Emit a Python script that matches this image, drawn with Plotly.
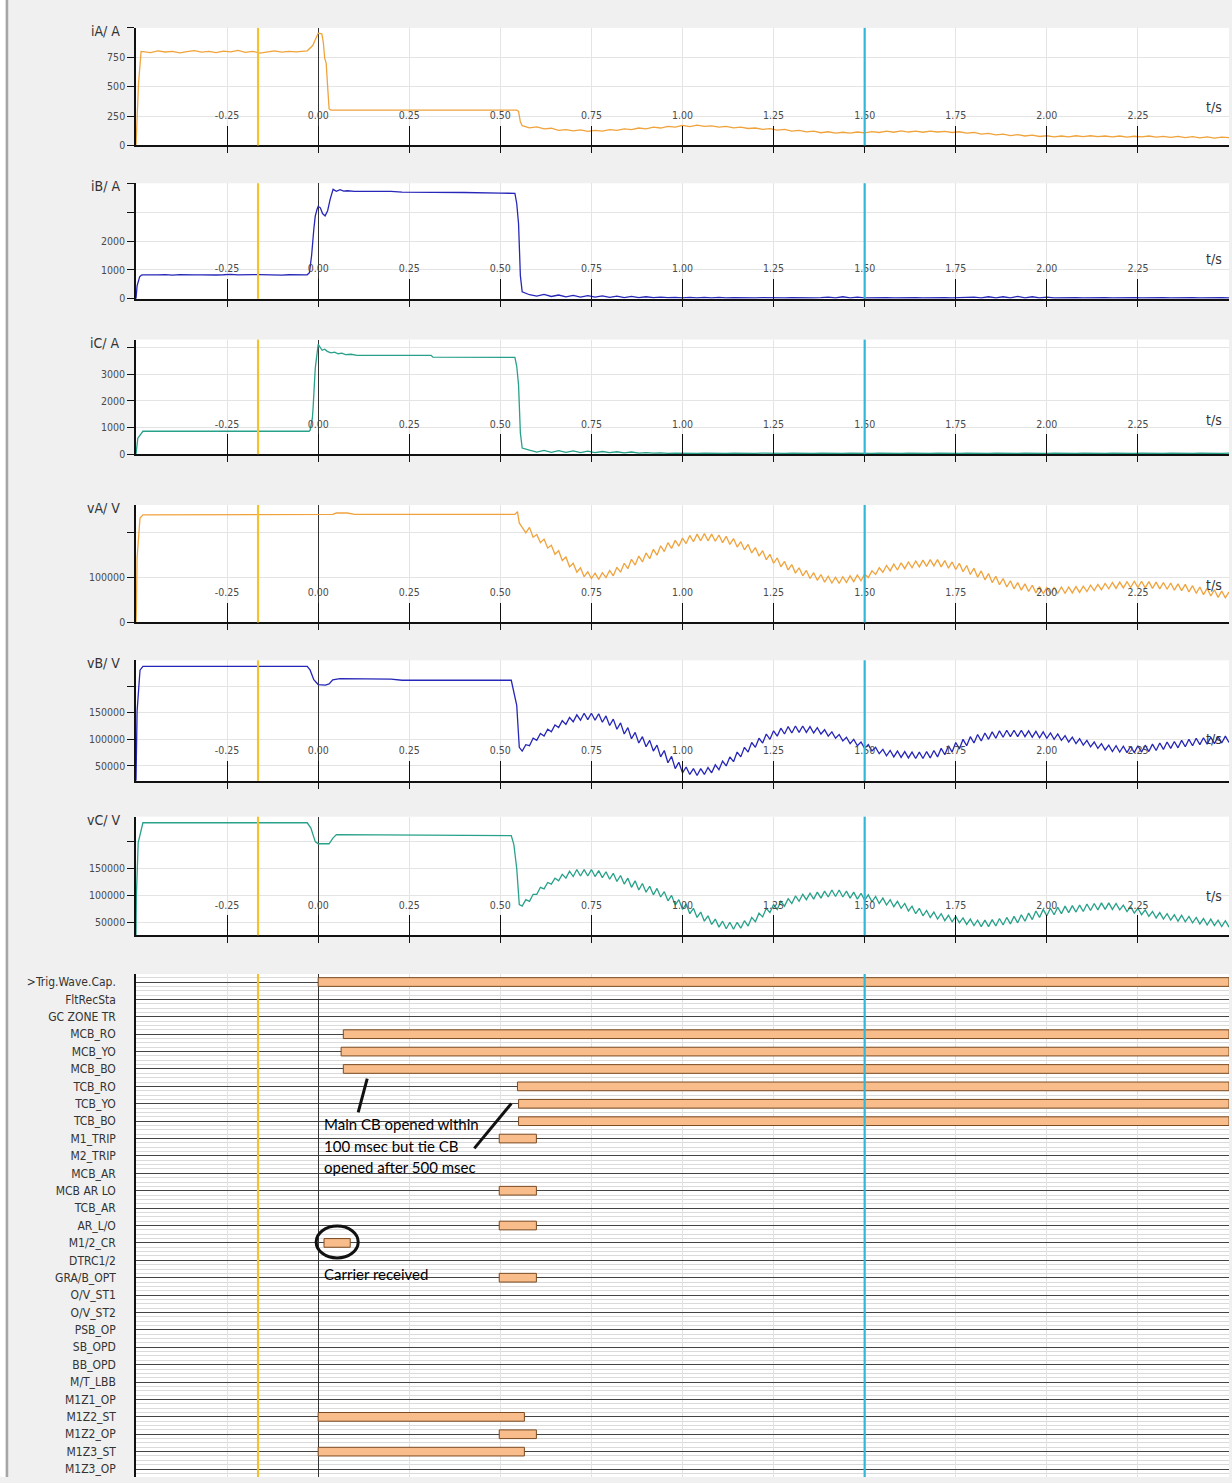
import plotly.graph_objects as go

W, H = 1232, 1483
PX_L, PX_R = 136, 1229
PW = PX_R - PX_L


def grid(start, step, n):
    return [round(start + i * step, 4) for i in range(n)]


# ---------------- shared x data ----------------
X_RANGE = [-0.5, 2.5]
X_TICKS = [-0.25, 0.0, 0.25, 0.5, 0.75, 1.0, 1.25, 1.5, 1.75, 2.0, 2.25]
X_TICK_TEXT = ["-0.25", "0.00", "0.25", "0.50", "0.75", "1.00", "1.25", "1.50", "1.75", "2.00", "2.25"]
CURSOR_1 = -0.165
CURSOR_2 = 1.5

# ---------------- iA (A) ----------------
iA_start_t = [-0.5, -0.498, -0.493, -0.486]
iA_start_v = [0, 150, 530, 800]
iA_pre_v = [798, 790, 805, 795, 800, 788, 798, 806, 794, 800, 790, 802, 796, 808, 792, 800,
            786, 798, 804, 794, 800, 796, 806]          # -0.48 .. -0.04 every 0.02 s
iA_fault_t = [-0.03, -0.015, -0.005, 0.0, 0.01, 0.014, 0.018, 0.022, 0.026, 0.03, 0.035,
              0.2, 0.4, 0.545, 0.55, 0.555]
iA_fault_v = [805, 850, 930, 955, 950, 880, 740, 700, 500, 310, 300, 298, 302, 300, 290, 200]
iA_post_v = [168, 150, 158, 140, 146, 128, 134, 124, 132, 120,
             128, 122, 134, 128, 140, 134, 148, 140, 156, 148,
             162, 156, 170, 160, 172, 162, 166, 156, 162, 150,
             156, 144, 148, 136, 142, 130, 136, 122, 128, 116,
             122, 108, 116, 104, 112, 104, 114, 106, 118, 110,
             122, 112, 124, 114, 122, 112, 122, 114, 120, 110,
             116, 104, 110, 96, 102, 90, 96, 84, 92, 80,
             88, 76, 82, 72, 80, 72, 82, 74, 82, 74,
             80, 72, 80, 70, 78, 72, 80, 70, 76, 68,
             76, 66, 74, 64, 72, 62, 70, 66]           # 0.56 .. 2.50 every 0.02 s

# ---------------- iB (A) ----------------
iB_start_t = [-0.5, -0.497, -0.49, -0.485]
iB_start_v = [0, 450, 760, 820]
iB_pre_v = [830, 840, 826, 834, 820, 836, 842, 830, 826, 838, 824, 832, 846, 830, 822, 834,
            840, 828, 836, 820, 832, 838, 830]
iB_fault_t = [-0.03, -0.024, -0.018, -0.012, -0.008, -0.003, 0.0, 0.006, 0.012, 0.019, 0.026,
              0.033, 0.041, 0.05, 0.06, 0.07, 0.08, 0.1, 0.2, 0.23, 0.3, 0.4, 0.5, 0.54,
              0.545, 0.55, 0.555, 0.56]
iB_fault_v = [830, 900, 1500, 2400, 2860, 3100, 3200, 3150, 2950, 2870, 3050, 3450, 3790, 3720,
              3780, 3730, 3740, 3720, 3720, 3690, 3690, 3680, 3660, 3650, 3300, 2600, 800, 240]
iB_post_v = [140, 90, 150, 80, 130, 70, 120, 60, 110, 60,
             100, 50, 90, 40, 80, 40, 70, 40, 60, 40,
             50, 30, 50, 30, 50, 30, 50, 30, 40, 30,
             40, 30, 40, 30, 40, 30, 40, 30, 40, 30,
             40, 60, 30, 70, 30, 60, 30, 40, 30, 40,
             30, 40, 30, 40, 30, 40, 30, 40, 30, 40,
             30, 60, 30, 70, 30, 70, 30, 80, 30, 70,
             30, 60, 30, 40, 30, 40, 30, 40, 30, 40,
             30, 40, 30, 40, 30, 40, 30, 40, 30, 40,
             30, 40, 30, 40, 30, 40, 30]               # 0.58 .. 2.50 every 0.02 s

# ---------------- iC (A) ----------------
iC_start_t = [-0.5, -0.498, -0.495, -0.481, -0.03]
iC_start_v = [0, 350, 600, 860, 860]
iC_fault_t = [-0.025, -0.022, -0.016, -0.014, -0.008, 0.0, 0.011, 0.018, 0.025, 0.035, 0.045,
              0.055, 0.065, 0.075, 0.09, 0.107, 0.31, 0.315, 0.54, 0.545, 0.55, 0.555, 0.56]
iC_fault_v = [860, 900, 1350, 1720, 3220, 4120, 3900, 3940, 3860, 3800, 3830, 3770, 3790, 3740,
              3750, 3710, 3710, 3640, 3630, 3300, 2600, 800, 230]
iC_post_v = [150, 80, 140, 70, 130, 70, 120, 60, 110, 60,
             100, 60, 90, 50, 80, 40, 60, 40, 50, 30,
             40, 30, 40, 30, 40, 30, 40, 30, 40, 30,
             40, 30, 40, 30, 40, 30, 40, 30, 40, 30,
             40, 30, 40, 30, 40, 30, 40, 30, 40, 30,
             40, 30, 40, 30, 40, 30, 40, 30, 40, 30,
             40, 30, 40, 30, 40, 30, 40, 30, 40, 30,
             40, 30, 40, 30, 40, 30, 40, 30, 40, 30,
             40, 30, 40, 30, 40, 30, 40, 30, 40, 30,
             40, 30, 40, 30, 40, 30, 40]

# ---------------- vA (V) ----------------
vA_key_t = [-0.5, -0.499, -0.497, -0.489, -0.481, 0.0, 0.04, 0.05, 0.08, 0.1, 0.54, 0.547, 0.552]
vA_key_v = [0, 25000, 144000, 233000, 240000, 240000, 241000, 244000, 244000, 241000, 241000,
            247000, 222000]
vA_post_kV = [212, 200, 212, 190, 196, 178, 186, 166, 172, 152,
              160, 138, 146, 124, 132, 112, 122, 102, 113, 98,
              110, 96, 111, 100, 116, 104, 123, 112, 132, 120,
              141, 128, 148, 135, 155, 142, 163, 150, 171, 158,
              178, 165, 183, 170, 188, 176, 194, 180, 197, 182,
              198, 182, 197, 181, 195, 178, 192, 174, 187, 168,
              180, 162, 174, 155, 167, 148, 160, 140, 152, 132,
              144, 124, 136, 117, 129, 110, 122, 104, 116, 98,
              111, 94, 107, 90, 103, 88, 101, 87, 102, 89,
              104, 91, 106, 93, 108, 100, 115, 107, 122, 112,
              127, 115, 130, 117, 133, 120, 135, 122, 137, 124,
              139, 125, 140, 126, 140, 124, 138, 121, 135, 118,
              132, 113, 127, 107, 121, 101, 115, 95, 109, 89,
              103, 84, 98, 79, 93, 75, 89, 72, 86, 69,
              83, 66, 80, 64, 78, 64, 78, 65, 79, 65,
              79, 66, 80, 67, 81, 69, 83, 71, 85, 73,
              87, 75, 89, 76, 90, 77, 91, 78, 92, 78,
              92, 77, 91, 76, 90, 75, 89, 74, 88, 72,
              86, 71, 85, 68, 82, 65, 79, 62, 76, 59,
              73, 56, 70, 55, 68]                     # 0.56 .. 2.50 every 0.01 s

# ---------------- vB (V) ----------------
vB_key_t = [-0.5, -0.499, -0.497, -0.489, -0.481, -0.03, -0.022, -0.012, 0.0, 0.02, 0.03, 0.04,
            0.06, 0.2, 0.23, 0.53, 0.537, 0.545, 0.552]
vB_key_v = [22000, 103000, 153000, 230000, 237000, 237000, 230000, 212000, 203000, 202000,
            204000, 212000, 214000, 213000, 211000, 211000, 190000, 164000, 85000]
vB_post_kV = [78, 90, 88, 102, 98, 111, 106, 119, 114, 127,
              122, 135, 128, 141, 133, 146, 136, 149, 137, 149,
              136, 148, 132, 144, 126, 138, 119, 131, 110, 122,
              101, 113, 93, 105, 86, 98, 78, 89, 67, 79,
              56, 68, 45, 57, 37, 48, 34, 45, 32, 45,
              34, 47, 37, 52, 43, 59, 50, 67, 58, 76,
              67, 85, 76, 94, 85, 102, 93, 110, 100, 116,
              106, 121, 110, 124, 112, 125, 113, 125, 113, 124,
              112, 122, 110, 118, 106, 114, 102, 109, 97, 104,
              92, 100, 88, 95, 83, 90, 78, 85, 73, 81,
              69, 79, 67, 78, 66, 77, 65, 76, 64, 76,
              64, 77, 65, 79, 67, 83, 71, 88, 76, 94,
              82, 100, 88, 105, 93, 109, 97, 112, 100, 114,
              102, 116, 104, 117, 105, 117, 105, 117, 105, 116,
              104, 115, 103, 114, 102, 112, 100, 110, 98, 107,
              95, 104, 92, 101, 89, 98, 86, 95, 83, 92,
              80, 89, 77, 88, 76, 87, 75, 87, 75, 88,
              76, 89, 77, 91, 79, 93, 81, 95, 83, 96,
              84, 98, 86, 100, 88, 102, 90, 103, 91, 104,
              92, 105, 93, 106, 94]

# ---------------- vC (V) ----------------
vC_key_t = [-0.5, -0.499, -0.494, -0.481, -0.03, -0.02, -0.008, 0.0, 0.03, 0.04, 0.05, 0.53,
            0.537, 0.545, 0.552]
vC_key_v = [26000, 98000, 198000, 235000, 235000, 225000, 200000, 196000, 196000, 206000,
            213000, 211000, 195000, 150000, 83000]
vC_post_kV = [80, 92, 89, 102, 102, 115, 112, 124, 121, 132,
              127, 139, 132, 145, 135, 148, 136, 148, 136, 148,
              135, 146, 133, 144, 130, 141, 126, 137, 121, 132,
              115, 127, 110, 122, 106, 117, 101, 113, 97, 107,
              90, 100, 82, 92, 74, 84, 66, 76, 59, 69,
              52, 62, 46, 56, 41, 52, 38, 50, 37, 50,
              39, 53, 43, 59, 51, 67, 60, 76, 68, 83,
              74, 89, 80, 94, 85, 99, 89, 102, 92, 104,
              93, 106, 95, 108, 97, 110, 98, 110, 97, 108,
              95, 106, 93, 104, 91, 101, 88, 98, 85, 95,
              82, 92, 79, 89, 76, 85, 71, 80, 66, 76,
              62, 72, 59, 69, 56, 66, 53, 63, 51, 61,
              49, 58, 46, 56, 44, 54, 42, 54, 42, 55,
              43, 57, 45, 59, 47, 61, 49, 64, 52, 67,
              55, 71, 59, 74, 62, 76, 64, 78, 66, 80,
              68, 81, 69, 82, 70, 84, 72, 85, 73, 86,
              74, 86, 74, 85, 73, 82, 70, 79, 67, 76,
              64, 73, 61, 70, 58, 68, 56, 66, 54, 64,
              52, 63, 51, 61, 49, 59, 47, 57, 45, 56,
              44, 54, 42, 53, 41]

# ---------------- digital channels ----------------
DIG_LABELS = [">Trig.Wave.Cap.", "FltRecSta", "GC ZONE TR", "MCB_RO", "MCB_YO", "MCB_BO",
              "TCB_RO", "TCB_YO", "TCB_BO", "M1_TRIP", "M2_TRIP", "MCB_AR", "MCB AR LO",
              "TCB_AR", "AR_L/O", "M1/2_CR", "DTRC1/2", "GRA/B_OPT", "O/V_ST1", "O/V_ST2",
              "PSB_OP", "SB_OPD", "BB_OPD", "M/T_LBB", "M1Z1_OP", "M1Z2_ST", "M1Z2_OP",
              "M1Z3_ST", "M1Z3_OP"]
BAR_CHANNEL = [">Trig.Wave.Cap.", "MCB_RO", "MCB_YO", "MCB_BO", "TCB_RO", "TCB_YO", "TCB_BO",
               "M1_TRIP", "MCB AR LO", "AR_L/O", "M1/2_CR", "GRA/B_OPT", "M1Z2_ST", "M1Z2_OP",
               "M1Z3_ST"]
BAR_START = [0.0, 0.069, 0.063, 0.069, 0.547, 0.55, 0.55, 0.497, 0.497, 0.497, 0.016, 0.497,
             0.0, 0.497, 0.0]
BAR_END = [2.5, 2.5, 2.5, 2.5, 2.5, 2.5, 2.5, 0.599, 0.599, 0.599, 0.088, 0.599, 0.566, 0.599,
           0.566]

# ---------------- assemble series ----------------
def series(parts):
    t, v = [], []
    for pt, pv in parts:
        t += list(pt)
        v += list(pv)
    return t, v


iA_t, iA_v = series([(iA_start_t, iA_start_v), (grid(-0.48, 0.02, len(iA_pre_v)), iA_pre_v),
                     (iA_fault_t, iA_fault_v), (grid(0.56, 0.02, len(iA_post_v)), iA_post_v)])
iB_t, iB_v = series([(iB_start_t, iB_start_v), (grid(-0.48, 0.02, len(iB_pre_v)), iB_pre_v),
                     (iB_fault_t, iB_fault_v), (grid(0.58, 0.02, len(iB_post_v)), iB_post_v)])
iC_t, iC_v = series([(iC_start_t, iC_start_v), (iC_fault_t, iC_fault_v),
                     (grid(0.58, 0.02, len(iC_post_v)), iC_post_v)])
vA_t, vA_v = series([(vA_key_t, vA_key_v),
                     (grid(0.56, 0.01, len(vA_post_kV)), [x * 1000 for x in vA_post_kV])])
vB_t, vB_v = series([(vB_key_t, vB_key_v),
                     (grid(0.56, 0.01, len(vB_post_kV)), [x * 1000 for x in vB_post_kV])])
vC_t, vC_v = series([(vC_key_t, vC_key_v),
                     (grid(0.56, 0.01, len(vC_post_kV)), [x * 1000 for x in vC_post_kV])])

ORANGE = "#f0a33c"
BLUE = "#2626b8"
TEAL = "#27a18a"

analog = [
    dict(name="iA/ A", t=iA_t, v=iA_v, color=ORANGE, px=(28, 146), rng=[0, 1000],
         tv=[0, 250, 500, 750, 1000], tt=["0", "250", "500", "750", ""], ts=0.33),
    dict(name="iB/ A", t=iB_t, v=iB_v, color=BLUE, px=(184, 300), rng=[0, 4000],
         tv=[0, 1000, 2000, 3000, 4000], tt=["0", "1000", "2000", "", ""], ts=0.345),
    dict(name="iC/ A", t=iC_t, v=iC_v, color=TEAL, px=(341, 456), rng=[0, 4300],
         tv=[0, 1000, 2000, 3000, 4000], tt=["0", "1000", "2000", "3000", ""], ts=0.30),
    dict(name="vA/ V", t=vA_t, v=vA_v, color=ORANGE, px=(507, 625), rng=[0, 262000],
         tv=[0, 100000, 200000], tt=["0", "100000", ""], ts=0.32),
    dict(name="vB/ V", t=vB_t, v=vB_v, color=BLUE, px=(663, 784), rng=[22000, 248500],
         tv=[50000, 100000, 150000, 200000], tt=["50000", "100000", "150000", ""], ts=0.35),
    dict(name="vC/ V", t=vC_t, v=vC_v, color=TEAL, px=(820, 939), rng=[26000, 246300],
         tv=[50000, 100000, 150000, 200000], tt=["50000", "100000", "150000", ""], ts=0.33),
]
DIG_PX = (978, 1483)

NARROW = "Liberation Sans Narrow, Arial Narrow, DejaVu Sans Condensed, Liberation Sans, Arial"
TICKFONT = dict(family=NARROW, size=10.5, color="#4a4a4a")


def ax(k, kind):
    return kind if k == 1 else f"{kind}{k}"


def dom(px):
    top, bot = px
    return [1 - bot / H, 1 - top / H]


fig = go.Figure()
layout = dict(
    width=W, height=H,
    margin=dict(l=PX_L, r=W - PX_R, t=0, b=0, pad=0),
    paper_bgcolor="#f0f0f0", plot_bgcolor="#ffffff",
    showlegend=False,
    shapes=[], annotations=[],
)

for i, p in enumerate(analog):
    k = i + 1
    fig.add_trace(go.Scatter(x=p["t"], y=p["v"], mode="lines",
                             line=dict(color=p["color"], width=1.3),
                             xaxis=ax(k, "x"), yaxis=ax(k, "y"), hoverinfo="skip"))
    # main time axis: long inside ticks, grid, zero line
    layout["xaxis" if k == 1 else f"xaxis{k}"] = dict(
        domain=[0, 1], range=X_RANGE, anchor=ax(k, "y"),
        tickmode="array", tickvals=X_TICKS, showticklabels=False,
        ticks="inside", ticklen=20, tickwidth=1, tickcolor="#111111",
        showline=True, linecolor="#111111", linewidth=1.5,
        showgrid=True, gridcolor="#e4e4e4", gridwidth=1,
        zeroline=True, zerolinecolor="#333333", zerolinewidth=1,
    )
    layout["yaxis" if k == 1 else f"yaxis{k}"] = dict(
        domain=dom(p["px"]), range=p["rng"], anchor=ax(k, "x"),
        tickmode="array", tickvals=p["tv"], ticktext=p["tt"],
        ticks="outside", ticklen=7, tickwidth=1, tickcolor="#111111", tickfont=TICKFONT,
        showline=True, linecolor="#111111", linewidth=1.5,
        showgrid=True, gridcolor="#e4e4e4", gridwidth=1, zeroline=False,
    )
    # overlay axis: short outside stubs of the time ticks
    ko = k + 7
    fig.add_trace(go.Scatter(x=[None], y=[None], xaxis=f"x{ko}", yaxis=ax(k, "y"),
                             hoverinfo="skip", showlegend=False))
    layout[f"xaxis{ko}"] = dict(
        overlaying=ax(k, "x"), anchor=ax(k, "y"), side="bottom", range=X_RANGE,
        tickmode="array", tickvals=X_TICKS, ticks="outside", ticklen=7, tickwidth=1,
        tickcolor="#111111", showticklabels=False, showgrid=False, zeroline=False,
        showline=False,
    )
    # overlay axis: time tick labels drawn inside the panel
    kl = k + 14
    fig.add_trace(go.Scatter(x=[None], y=[None], xaxis=f"x{kl}", yaxis=ax(k, "y"),
                             hoverinfo="skip", showlegend=False))
    layout[f"xaxis{kl}"] = dict(
        overlaying=ax(k, "x"), anchor="free", position=1 - (p["px"][1] - 38) / H,
        side="bottom", range=X_RANGE, tickmode="array", tickvals=X_TICKS,
        ticktext=X_TICK_TEXT, ticks="", tickfont=TICKFONT, showticklabels=True,
        showgrid=False, zeroline=False, showline=False,
    )
    # channel name
    layout["annotations"].append(dict(
        text=p["name"], xref="paper", x=(122 - PX_L) / PW, xanchor="right",
        yref=f"{ax(k, 'y')} domain", y=1, yanchor="middle", yshift=-3, showarrow=False,
        font=dict(family=NARROW, size=14, color="#333333")))
    layout["annotations"].append(dict(
        text="t/s", xref=ax(k, "x"), x=2.46, xanchor="center",
        yref=f"{ax(k, 'y')} domain", y=p["ts"], yanchor="middle", showarrow=False,
        font=dict(family=NARROW, size=14, color="#333333")))

# ---------------- digital panel ----------------
k = 7
rows = [DIG_LABELS.index(c) for c in BAR_CHANNEL]
fig.add_trace(go.Bar(
    y=rows, x=[e - s for s, e in zip(BAR_START, BAR_END)], base=BAR_START, orientation="h",
    width=0.5, marker=dict(color="#f8bd8b", line=dict(color="#7b4b22", width=1)),
    xaxis="x7", yaxis="y7", hoverinfo="skip"))
row_top = 986
row_step = (1475 - 986) / 28.0
y_top = (DIG_PX[0] - row_top) / row_step
y_bot = (DIG_PX[1] - row_top) / row_step
n_rows = len(DIG_LABELS)
layout["xaxis7"] = dict(
    domain=[0, 1], range=X_RANGE, anchor="y7", tickmode="array", tickvals=X_TICKS,
    showticklabels=False, ticks="", showline=False,
    showgrid=True, gridcolor="#e2e2e2", gridwidth=1,
    zeroline=True, zerolinecolor="#333333", zerolinewidth=1,
)
layout["yaxis7"] = dict(
    domain=[0, 1 - DIG_PX[0] / H], range=[y_bot, y_top], anchor="x7",
    tickmode="array", tickvals=list(range(n_rows)), ticktext=DIG_LABELS,
    ticks="", ticklabelstandoff=16,
    tickfont=dict(family=NARROW, size=12, color="#333333"),
    showline=True, linecolor="#111111", linewidth=1.5,
    showgrid=True, gridcolor="#444444", gridwidth=1.3, zeroline=False,
    minor=dict(tickmode="array",
               tickvals=[r + f for r in range(-1, n_rows) for f in (0.25, 0.5, 0.75)],
               showgrid=True, gridcolor="#dadada", gridwidth=1, ticks=""),
)

# cursors in every panel
for k in range(1, 8):
    for xc, col, wdt in ((CURSOR_1, "#f3c22e", 2.2), (CURSOR_2, "#33b6d8", 2.2)):
        layout["shapes"].append(dict(
            type="line", xref=ax(k, "x"), yref=f"{ax(k, 'y')} domain",
            x0=xc, x1=xc, y0=0, y1=1, line=dict(color=col, width=wdt), layer="above"))


# annotation marks in digital panel
def row_of(px):
    return (px - row_top) / row_step


def t_of(px):
    return (px - 318) / 364.0


ANNOT_FONT = dict(family="Lato, Open Sans, Liberation Sans", size=15, color="#000000")
for txt, ypx in (("Main CB opened within", 1128.5), ("100 msec but tie CB", 1151),
                 ("opened after 500 msec", 1172)):
    layout["annotations"].append(dict(
        text=txt, xref="x7", yref="y7", x=t_of(322), y=row_of(ypx), xanchor="left",
        yanchor="middle", showarrow=False, font=ANNOT_FONT))
layout["annotations"].append(dict(
    text="Carrier received", xref="x7", yref="y7", x=t_of(322), y=row_of(1279),
    xanchor="left", yanchor="middle", showarrow=False, font=ANNOT_FONT))
layout["shapes"] += [
    dict(type="line", xref="x7", yref="y7", x0=t_of(367), y0=row_of(1083), x1=t_of(358),
         y1=row_of(1117), line=dict(color="#111111", width=3), layer="above"),
    dict(type="line", xref="x7", yref="y7", x0=t_of(511), y0=row_of(1108), x1=t_of(474),
         y1=row_of(1153), line=dict(color="#111111", width=3), layer="above"),
    dict(type="circle", xref="x7", yref="y7", x0=t_of(316), x1=t_of(358), y0=row_of(1231),
         y1=row_of(1263), line=dict(color="#111111", width=3), layer="above"),
]

# window border on the left
layout["shapes"] += [
    dict(type="rect", xref="paper", yref="paper", x0=(0 - PX_L) / PW, x1=(5 - PX_L) / PW,
         y0=0, y1=1, fillcolor="#ffffff", line=dict(width=0), layer="above"),
    dict(type="line", xref="paper", yref="paper", x0=(7 - PX_L) / PW, x1=(7 - PX_L) / PW,
         y0=0, y1=1, line=dict(color="#a6a6a6", width=2.5), layer="above"),
]

fig.update_layout(**layout)
fig.write_html("out.html")
